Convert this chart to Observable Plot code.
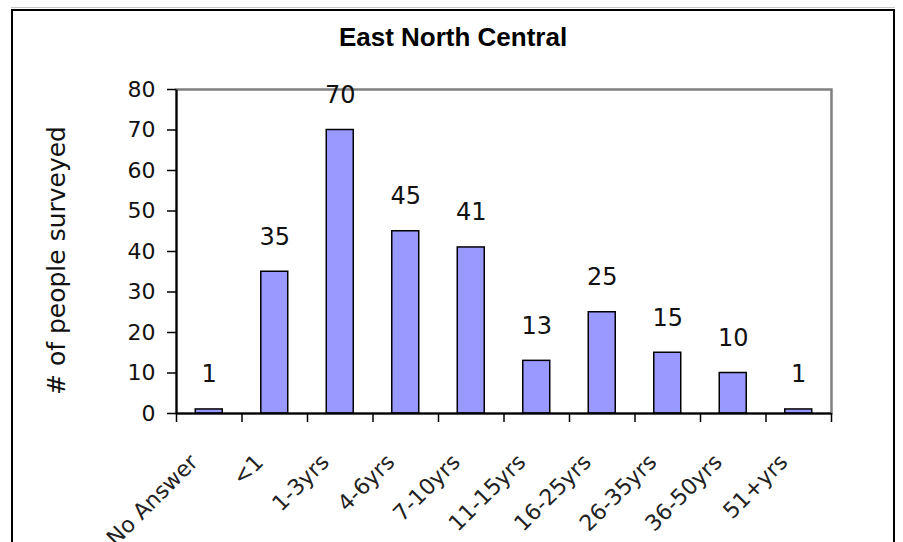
<!DOCTYPE html>
<html>
<head>
<meta charset="utf-8">
<script src="https://cdn.jsdelivr.net/npm/d3@7"></script>
<script src="https://cdn.jsdelivr.net/npm/@observablehq/plot@0.6"></script>
<style>
  html, body { margin: 0; padding: 0; background: #fff; overflow: hidden; }
  #wrap { position: relative; width: 903px; height: 542px; }
  #border { position: absolute; left: 11px; top: 9px; width: 880px; height: 600px; border: 2px solid #000; box-sizing: content-box; pointer-events: none; }
  #topline { position: absolute; left: 11px; top: 7px; width: 884px; height: 1px; background: #c8c8c8; }
  svg { position: absolute; left: 0; top: 0; }
</style>
</head>
<body>
<div id="wrap"></div>
<script>
const title = "East North Central";
const yTitle = "# of people surveyed";
const categories = ["No Answer", "<1", "1-3yrs", "4-6yrs", "7-10yrs", "11-15yrs", "16-25yrs", "26-35yrs", "36-50yrs", "51+yrs"];
const counts = [1, 35, 70, 45, 41, 13, 25, 15, 10, 1];
const yTicks = [0, 10, 20, 30, 40, 50, 60, 70, 80];

const data = categories.map((c, i) => ({category: c, count: counts[i]}));

const W = 903, H = 542;
const mL = 176, mR = 72, mT = 89, mB = 129;
const step = (W - mL - mR) / categories.length;
const half = step / 2;

const chart = Plot.plot({
  width: W,
  height: H,
  marginLeft: mL,
  marginRight: mR,
  marginTop: mT,
  marginBottom: mB,
  style: {background: "transparent", fontFamily: "DejaVu Sans", color: "#000", overflow: "visible"},
  x: {type: "band", domain: categories, paddingInner: 0.588, paddingOuter: 0.294, round: false, axis: null},
  y: {domain: [0, 80], axis: null},
  marks: [
    Plot.frame({stroke: "#808080", strokeWidth: 2.5}),
    Plot.barY(data, {x: "category", y: "count", fill: "#9999ff", stroke: "#000", strokeWidth: 1.5}),
    // left axis line
    Plot.link([categories[0]], {x1: d => d, x2: d => d, y1: () => 0, y2: () => 80, dx: -half, stroke: "#000", strokeWidth: 2}),
    // x ticks at category boundaries
    Plot.ruleX(categories, {x: d => d, dx: -half, y1: 0, y2: 0, insetBottom: -9, stroke: "#000", strokeWidth: 1.5}),
    Plot.ruleX([categories[categories.length - 1]], {x: d => d, dx: half, y1: 0, y2: 0, insetBottom: -9, stroke: "#000", strokeWidth: 1.5}),
    // bottom axis line
    Plot.ruleY([0], {stroke: "#000", strokeWidth: 2}),
    Plot.axisY({ticks: yTicks, tickSize: 9, tickPadding: 12, fontSize: 22, stroke: "#000", strokeWidth: 1.5, fill: "#111", label: null, fontFamily: "DejaVu Sans"}),
    // value labels
    Plot.text(data, {x: "category", y: "count", text: d => String(d.count), dy: -27, lineAnchor: "bottom", fontSize: 24, fill: "#111", fontFamily: "DejaVu Sans"}),
    // x category labels
    Plot.text(categories, {x: d => d, frameAnchor: "bottom", text: d => d, rotate: -45, textAnchor: "end", lineAnchor: "bottom", dx: -10, dy: 50, fontSize: 22, fill: "#222", fontFamily: "DejaVu Sans"}),
    // y title
    Plot.text([yTitle], {frameAnchor: "left", text: d => d, rotate: -90, textAnchor: "middle", dx: -120, dy: 9, fontSize: 25, fill: "#111", fontFamily: "DejaVu Sans"}),
    // chart title
    Plot.text([title], {frameAnchor: "top", text: d => d, textAnchor: "middle", dx: (W / 2 + 1) - (mL + (W - mL - mR) / 2), dy: -44, lineAnchor: "bottom", fontSize: 26, fontWeight: "bold", fill: "#000", fontFamily: "Liberation Sans"})
  ]
});

const wrap = document.getElementById("wrap");
wrap.appendChild(chart);
const tl = document.createElement("div"); tl.id = "topline"; wrap.appendChild(tl);
const b = document.createElement("div"); b.id = "border"; wrap.appendChild(b);
</script>
</body>
</html>
